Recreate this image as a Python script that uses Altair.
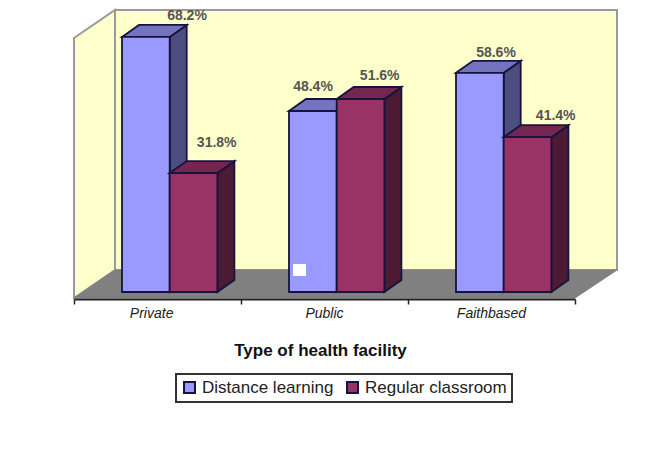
import altair as alt
import pandas as pd

categories = ["Private", "Public", "Faithbased"]
series = ["Distance learning", "Regular classroom"]
distance = [68.2, 48.4, 58.6]
regular = [31.8, 51.6, 41.4]

# layout, in pixels of the page
X0, CAT_W, Y0, PCT = 74, 167.0, 292, 3.74
LEFT, TOP, RIGHT, BOTTOM = 74, 10, 575, 299
def ux(d): return d / CAT_W
def uy(d): return d / PCT
def xu(px): return (px - X0) / CAT_W
def yu(px): return (Y0 - px) / PCT

BAR_W = ux(47.7)
BAR_START = ux(48)
DX, DY = ux(17), uy(12)

label_nudge = {  # centre of each value label relative to its bar: px right of bar left, px above top
    ("Private", 0): (65, 21), ("Private", 1): (47, 30),
    ("Public", 0): (24, 24), ("Public", 1): (43, 23),
    ("Faithbased", 0): (40, 20), ("Faithbased", 1): (52, 21),
}

fronts, sides, tops, labels = [], [], [], []
for i, cat in enumerate(categories):
    for s, vals in enumerate((distance, regular)):
        v = vals[i]
        x0 = i + BAR_START + s * BAR_W
        x1 = x0 + BAR_W
        fronts.append(dict(cat=cat, s=series[s], x=x0, x2=x1, y=v, y2=0))
        for xx, yy, yy2 in [(x1, v, 0), (x1 + DX, v + DY, DY)]:
            sides.append(dict(id=cat, s=series[s], x=xx, y=yy, y2=yy2))
        for xx, yy, yy2 in [(x0, v, v), (x0 + DX, v + DY, v), (x1, v + DY, v), (x1 + DX, v + DY, v + DY)]:
            tops.append(dict(id=cat, s=series[s], x=xx, y=yy, y2=yy2))
        nx, ny = label_nudge[(cat, s)]
        labels.append(dict(x=x0 + ux(nx), y=v + uy(ny), t=f"{v}%"))

fronts, sides, tops, labels = map(pd.DataFrame, (fronts, sides, tops, labels))

xs = alt.Scale(domain=[0, 3], nice=False, zero=False)
ys = alt.Scale(domain=[yu(BOTTOM), yu(TOP)], nice=False, zero=False)
x_axis = alt.Axis(values=[0, 1, 2, 3], labels=False, grid=False, tickSize=5, tickWidth=1.5,
                  tickColor="#222222", domainColor="#222222", domainWidth=2, zindex=1,
                  title="Type of health facility", titleFont="Liberation Sans",
                  titleFontSize=17, titleFontWeight="bold", titleColor="#111111",
                  titlePadding=38, titleX=246)
X = lambda f="x": alt.X(f"{f}:Q", scale=xs, axis=x_axis)
Y = lambda f="y": alt.Y(f"{f}:Q", scale=ys, axis=None)

EDGE = "#14143c"
WALL, WALL_EDGE, FLOOR = "#FFFFCC", "#9a9a9a", "#808080"

def poly(rows, fill, stroke, sw=1.5):
    df = pd.DataFrame(rows, columns=["x", "y", "y2"])
    return alt.Chart(df).mark_area(fill=fill, stroke=stroke, strokeWidth=sw, interpolate="linear").encode(
        x=X(), y=Y(), y2="y2:Q")

left_wall = poly([(xu(74), yu(38), yu(298)), (xu(115), yu(10), yu(270))], WALL, WALL_EDGE, 2)
back_wall = poly([(xu(115), yu(10), yu(270)), (xu(617), yu(10), yu(270))], WALL, WALL_EDGE, 2)
floor = poly([(xu(74), yu(298), yu(298)), (xu(115), yu(270), yu(298)),
              (xu(575), yu(270), yu(298)), (xu(617), yu(270), yu(270))], FLOOR, FLOOR, 1)

color = alt.Color("s:N", scale=alt.Scale(domain=series, range=["#9999FF", "#993366"]),
                  legend=alt.Legend(title=None, orient="none", legendX=102, legendY=364, direction="horizontal",
                                    columns=2, symbolType="square", symbolSize=120, symbolStrokeColor="#14143c",
                                    symbolStrokeWidth=2, labelFont="Liberation Sans", labelFontSize=17,
                                    labelColor="#222222", strokeColor="#333333", fillColor="white",
                                    padding=5, columnPadding=9, labelLimit=200, symbolOpacity=1))

layers = [left_wall, back_wall, floor]
side_c = {series[0]: "#4d4d80", series[1]: "#4d1a33"}
top_c = {series[0]: "#7373bf", series[1]: "#732650"}
for sname in series:
    layers.append(alt.Chart(sides[sides.s == sname]).mark_area(fill=side_c[sname], stroke=EDGE, strokeWidth=1.8).encode(
        x=X(), y=Y(), y2="y2:Q", detail="id:N"))
    layers.append(alt.Chart(tops[tops.s == sname]).mark_area(fill=top_c[sname], stroke=EDGE, strokeWidth=1.8).encode(
        x=X(), y=Y(), y2="y2:Q", detail="id:N"))
    layers.append(alt.Chart(fronts[fronts.s == sname]).mark_rect(stroke=EDGE, strokeWidth=1.8).encode(
        x=X(), x2="x2:Q", y=Y(), y2="y2:Q", color=color))

speck = alt.Chart(pd.DataFrame([dict(x=xu(293), x2=xu(306), y=yu(264), y2=yu(276))])).mark_rect(fill="white").encode(
    x=X(), x2="x2:Q", y=Y(), y2="y2:Q")

value_text = alt.Chart(labels).mark_text(font="Liberation Sans", fontSize=14, fontWeight="bold", color="#555555",
                                         baseline="middle").encode(x=X(), y=Y(), text="t:N")

cat_df = pd.DataFrame({"cat": categories, "x": [i + 0.5 - (0.035 if i == 0 else 0) for i in range(3)]})
cat_text = alt.Chart(cat_df).mark_text(font="Liberation Sans", fontSize=14, fontStyle="italic", color="#222222",
                                       baseline="middle").encode(x=X(), y=alt.value(304), text="cat:N")

chart = alt.layer(*layers, speck, value_text, cat_text).properties(
    width=RIGHT - LEFT, height=BOTTOM - TOP, background="white",
    padding={"left": LEFT - 8, "top": TOP - 8, "right": 642 - RIGHT, "bottom": 442 - BOTTOM},
    autosize=alt.AutoSizeParams(type="none"),
).configure_view(stroke=None).configure_legend(strokeWidth=2)

chart.save("out.html", embed_options={"renderer": "svg", "actions": False})
